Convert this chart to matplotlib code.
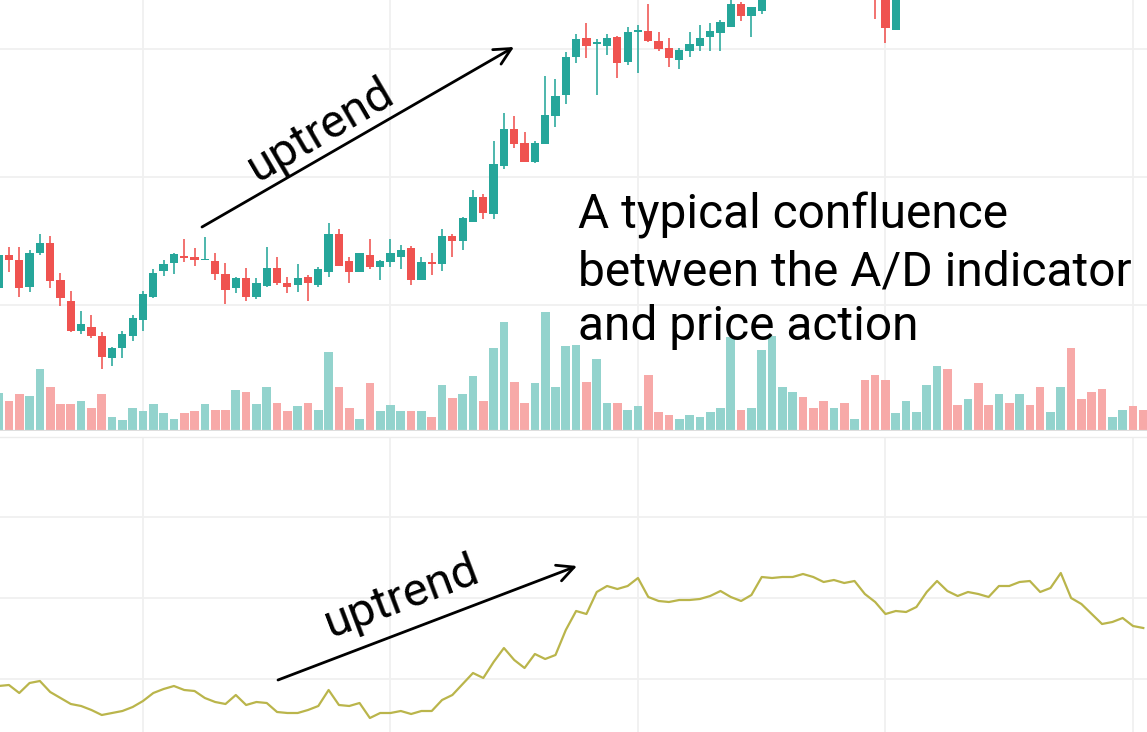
import matplotlib
matplotlib.use("Agg")
import matplotlib.pyplot as plt
import matplotlib.patches as mpatches
import numpy as np

# ---------------- data ----------------
opens = [212, 245, 240, 213, 247, 257, 220, 199, 169, 173, 164, 142, 152, 164, 180, 203, 229, 237, 244, 243,
         240, 239, 226, 212, 222, 203, 214, 232, 217, 215, 223, 215, 228, 266, 239, 228, 245, 233, 238, 243,
         252, 220, 238, 236, 264, 259, 278, 303, 286, 334, 371, 357, 338, 356, 384, 405, 443, 462, 456.3, 454,
         463, 438, 468.3, 469, 459, 452, 440, 449, 454, 463, 467, 473, 496, 484, 489, 515, 545, 560, 572, 560,
         550, 538, 548, 535, 542, 520, 503, 470, 510, 528, 540, 558, 580, 566, 558, 568, 555, 550, 564, 558,
         570, 563, 552, 560, 576, 548, 538, 528, 518, 524, 532, 524]
highs = [250, 253, 253, 250, 266, 264, 227, 209, 189, 185, 168, 153, 169, 185, 209, 231, 240, 247, 261, 252,
         263, 247, 237, 223, 232, 222, 253, 243, 223, 236, 225, 233, 277, 271, 243, 247, 261, 240, 261, 255,
         254, 243, 247, 271, 266, 283, 310, 306, 359, 387, 384, 368, 359, 424, 421, 448, 466, 477, 461, 466,
         464, 473, 475, 496, 468, 462, 452, 468, 475, 477, 480, 505, 498, 493, 525, 555, 570, 580, 578, 565,
         555, 555, 552, 548, 545, 525, 508, 518, 532, 546, 562, 586, 588, 570, 574, 572, 560, 568, 570, 576,
         574, 568, 564, 582, 580, 554, 544, 532, 530, 536, 538, 530]
lows = [208, 228, 203, 208, 245, 212, 194, 168, 166, 162, 131, 134, 142, 159, 169, 202, 224, 226, 238, 234,
        240, 220, 196, 207, 199, 201, 213, 215, 207, 208, 199, 213, 223, 234, 217, 228, 231, 220, 233, 231,
        215, 220, 225, 229, 243, 250, 278, 281, 281, 331, 352, 338, 337, 356, 373, 396, 437, 442, 405, 445,
        422, 435, 427, 458, 449, 433, 431, 443, 449, 449, 449, 473, 479, 463, 486, 512, 540, 555, 550, 542,
        530, 533, 528, 530, 512, 481, 457, 470, 506, 524, 536, 554, 560, 552, 554, 550, 544, 546, 552, 554,
        558, 546, 548, 556, 540, 530, 520, 510, 514, 520, 518, 510]
closes = [245, 240, 212, 247, 257, 219, 202, 169, 176, 164, 143, 152, 166, 182, 206, 227, 236, 246, 242, 240,
          241, 226, 210, 222, 203, 217, 232, 217, 213, 222, 217, 231, 266, 234, 228, 247, 233, 239, 247, 250,
          220, 238, 236.5, 264, 259, 282, 303, 287, 336, 371, 356, 338, 357, 385, 404, 443, 461, 454, 457.7, 462,
          437, 468, 469.3, 459, 451, 442, 450, 456, 462, 469, 478, 496, 484, 493, 515, 545, 560, 572, 560, 550,
          538, 548, 535, 542, 520, 503, 472, 510, 528, 540, 558, 580, 566, 558, 568, 555, 550, 564, 558, 570,
          563, 552, 560, 576, 548, 538, 528, 518, 524, 532, 524, 516]
volumes = [36.7, 29.3, 36, 34.3, 60.7, 43.3, 25.7, 25.7, 29.3, 22.3, 36, 13.3, 9.7, 22, 18.7, 25.7, 17, 11.3, 17, 18.7,
           25.7, 20.3, 20.3, 39.7, 38, 25.7, 43.3, 27.3, 18.7, 23.7, 27.3, 20, 78, 42.7, 22, 11.3, 46.7, 18.7, 25.3, 18.7,
           18.7, 18.7, 13, 44.7, 32.3, 36, 53.7, 29, 81.7, 107.7, 48.3, 27.3, 46.7, 118.3, 42.7, 83.7, 85, 48.3, 71, 27.3,
           27.3, 20, 24, 55.3, 18.3, 15, 11.3, 15, 13.3, 18.3, 22, 92.7, 20, 22, 80, 94, 42.7, 37.7, 32.7, 22,
           29, 22, 27.3, 11.3, 50, 55.3, 50, 16.7, 29, 18.3, 44.7, 64, 60.7, 25.3, 30.7, 46.7, 25.3, 36, 27.3, 36,
           25.3, 43, 18.3, 43, 81.7, 30.7, 37.7, 41.3, 13, 20, 23.7, 20]
ad_line = [114, 115, 107, 117, 119, 108, 102, 96, 94, 90, 85, 87, 89, 93, 99, 107, 111, 114, 110, 109,
           102, 98, 96, 105, 95, 98, 97, 88, 87, 87, 90, 94, 110, 95, 94, 97, 82, 87, 87, 89,
           86, 89, 89, 100, 105, 116, 127, 122, 138, 152, 140, 132, 146, 141, 145, 170, 189, 186, 208, 214,
           211, 214, 222, 203, 199, 198, 200, 200, 201, 204, 209, 203, 199, 205, 223, 222, 223, 223, 226, 223,
           218, 220, 217, 219, 206, 198, 186, 189, 188, 193, 208, 219, 209, 204, 208, 206, 203, 214, 214, 218,
           219, 208, 212, 227, 202, 196, 186, 176, 178, 182, 174, 172]
date_ticks = [14, 38, 62, 86, 110]
price_grid = [195, 323, 451]
ad_grid = [120.7, 201.7, 282.7]

annotation_text = ["A typical confluence", "between the A/D indicator", "and price action"]
trend_label = "uptrend"

# ---------------- style ----------------
UP = '#26a69a'
DOWN = '#ef5350'
UP_VOL = '#93d3cd'
DOWN_VOL = '#f7a9a8'
AD_COLOR = '#bab54b'
GRID = '#f0f0f0'
W, H = 1147, 732

fig = plt.figure(figsize=(W / 100, H / 100), dpi=100)
fig.patch.set_facecolor('white')

top_rect = [0, 1 - 431 / H, 1, 431 / H]
ax_vol = fig.add_axes(top_rect)
ax = fig.add_axes(top_rect)
ax.set_facecolor('none')
ax_ad = fig.add_axes([0, 0, 1, (H - 437) / H])

x = np.arange(len(opens))
o = np.array(opens, float)
h = np.array(highs, float)
l = np.array(lows, float)
c = np.array(closes, float)
up = c >= o
xlim = (0.1333, 111.36)

# volume
ax_vol.bar(x, volumes, width=0.84, color=np.where(up, UP_VOL, DOWN_VOL), zorder=2, linewidth=0)
ax_vol.set_ylim(-1, 430)
ax_vol.set_xlim(*xlim)

# candles
col = np.where(up, UP, DOWN)
ax.vlines(x, l, h, colors=col, linewidth=1.15, zorder=3)
body_bottom = np.minimum(o, c)
body_height = np.maximum(np.abs(c - o), 1.4)
ax.bar(x, body_height, bottom=body_bottom, width=0.8, color=col, linewidth=0, zorder=4)
ax.set_ylim(69, 500)
ax.set_xlim(*xlim)

# A/D
ax_ad.plot(x, ad_line, color=AD_COLOR, linewidth=1.6, zorder=3)
ax_ad.set_ylim(68, 363)
ax_ad.set_xlim(*xlim)

# grids
for a_ in (ax_vol, ax_ad):
    for t in date_ticks:
        a_.axvline(t, color=GRID, linewidth=1.3, zorder=1)
for g in price_grid:
    ax.axhline(g, color=GRID, linewidth=1.3, zorder=0.5)
for g in ad_grid:
    ax_ad.axhline(g, color=GRID, linewidth=1.3, zorder=1)

for a_ in (ax_vol, ax, ax_ad):
    a_.set_xticks([])
    a_.set_yticks([])
    for s in a_.spines.values():
        s.set_visible(False)

ax_vol.axhline(-0.5, color='#dedede', linewidth=1.6, zorder=5)
ax_ad.spines['top'].set_visible(True)
ax_ad.spines['top'].set_color('#ececec')
ax_ad.spines['top'].set_linewidth(1.0)


def fx(px):
    return px / W


def fy(py):
    return 1 - py / H


# arrows
arrow_style = '->,head_length=0.6,head_width=0.3'
for start, end in [((202, 227), (514, 47)), ((278, 680), (577, 566))]:
    fig.add_artist(mpatches.FancyArrowPatch(
        (fx(start[0]), fy(start[1])), (fx(end[0]), fy(end[1])), transform=fig.transFigure,
        arrowstyle=arrow_style, mutation_scale=20, linewidth=2.0, color='black',
        shrinkA=0, shrinkB=0))

fig.text(fx(321), fy(130), trend_label, fontsize=34, family='Roboto', rotation=30.4,
         ha='center', va='center', rotation_mode='anchor')
fig.text(fx(402), fy(597), trend_label, fontsize=34, family='Roboto', rotation=20.7,
         ha='center', va='center', rotation_mode='anchor')

for line, base in zip(annotation_text, [229, 285, 340]):
    fig.text(fx(578), fy(base), line, fontsize=34.5, family='Roboto', ha='left', va='baseline')

fig.savefig('out.png', dpi=100, facecolor='white')
